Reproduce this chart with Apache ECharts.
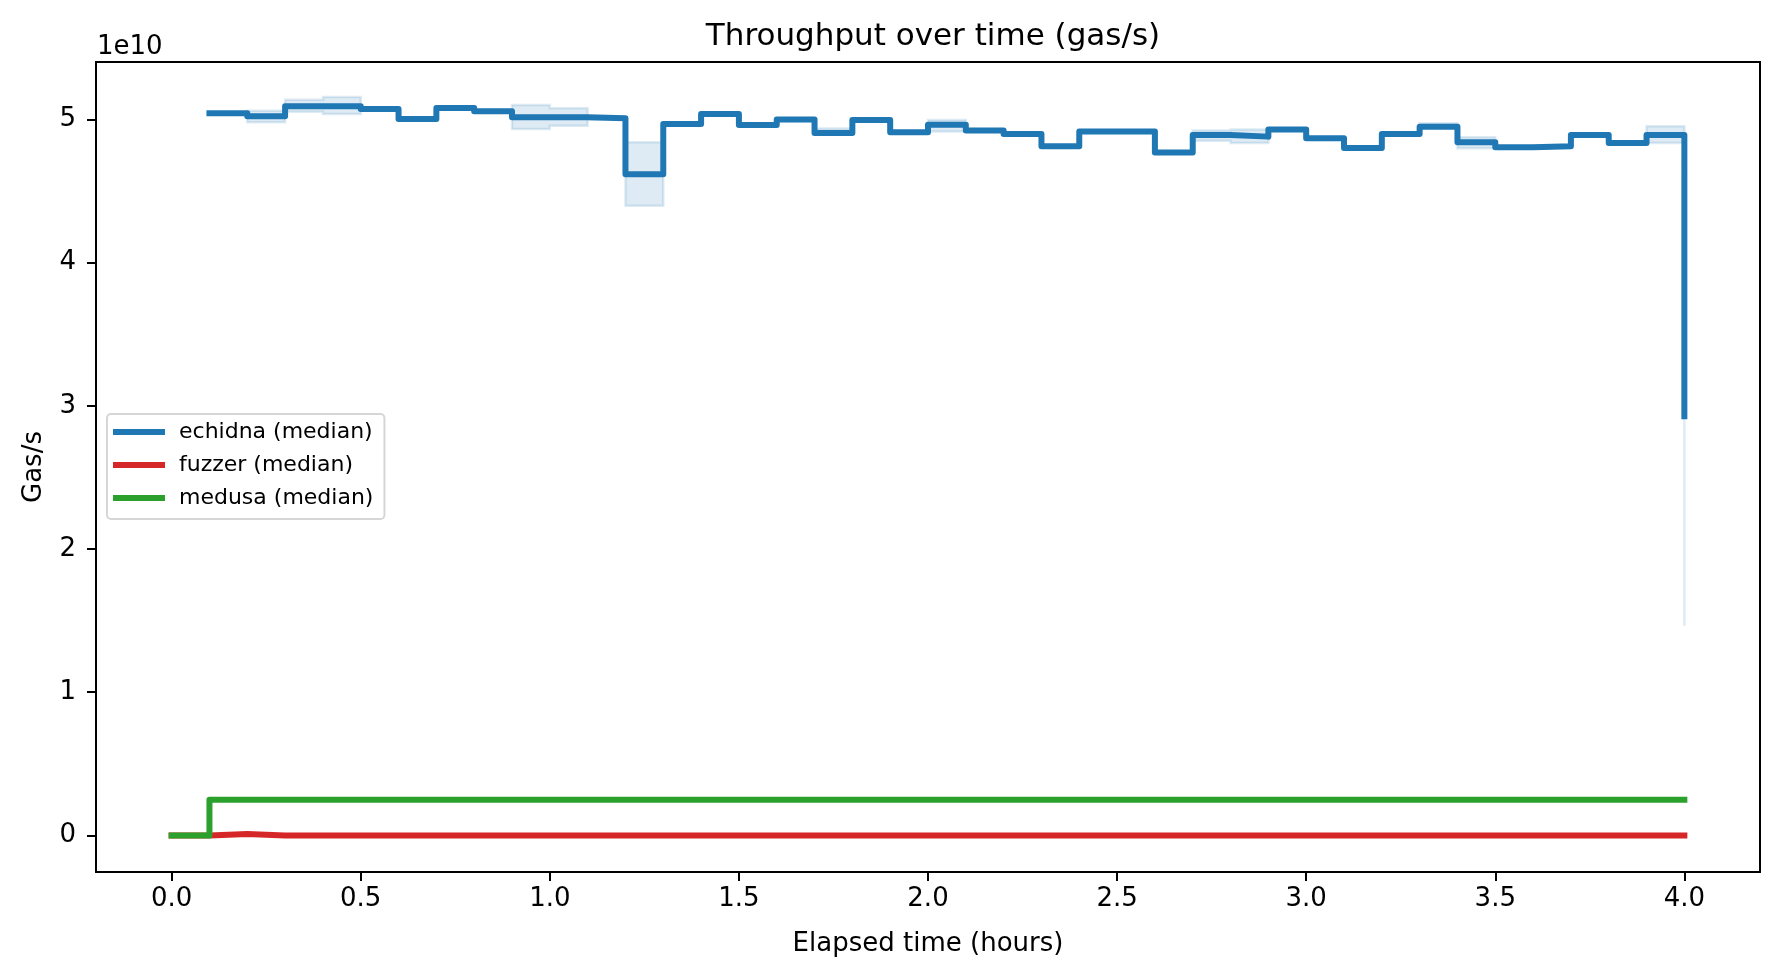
<!DOCTYPE html>
<html>
<head>
<meta charset="utf-8">
<title>Throughput over time (gas/s)</title>
<script src="https://cdn.jsdelivr.net/npm/echarts@6/dist/echarts.min.js"></script>
<style>
  html, body { margin: 0; padding: 0; background: #fff; }
  #chart { width: 1779px; height: 978px; }
</style>
</head>
<body>
<div id="chart"></div>
<script>
// elapsed time in hours, one sample every 6 minutes
var hours = [0.0, 0.1, 0.2, 0.3, 0.4, 0.5, 0.6, 0.7, 0.8, 0.9, 1.0,
  1.1, 1.2, 1.3, 1.4, 1.5, 1.6, 1.7, 1.8, 1.9, 2.0,
  2.1, 2.2, 2.3, 2.4, 2.5, 2.6, 2.7, 2.8, 2.9, 3.0,
  3.1, 3.2, 3.3, 3.4, 3.5, 3.6, 3.7, 3.8, 3.9, 4.0];
// echidna has no sample at 0.0
var echidnaHours = [0.1, 0.2, 0.3, 0.4, 0.5, 0.6, 0.7, 0.8, 0.9, 1.0,
  1.1, 1.2, 1.3, 1.4, 1.5, 1.6, 1.7, 1.8, 1.9, 2.0,
  2.1, 2.2, 2.3, 2.4, 2.5, 2.6, 2.7, 2.8, 2.9, 3.0,
  3.1, 3.2, 3.3, 3.4, 3.5, 3.6, 3.7, 3.8, 3.9, 4.0];

// gas/s
var echidnaMedian = [5.042e10, 5.021e10, 5.091e10, 5.091e10, 5.072e10, 5.002e10, 5.079e10, 5.056e10, 5.014e10, 5.014e10,
  5.007e10, 4.617e10, 4.967e10, 5.037e10, 4.960e10, 4.998e10, 4.904e10, 4.995e10, 4.909e10, 4.962e10,
  4.921e10, 4.897e10, 4.811e10, 4.914e10, 4.914e10, 4.769e10, 4.890e10, 4.879e10, 4.928e10, 4.867e10,
  4.799e10, 4.897e10, 4.948e10, 4.839e10, 4.804e10, 4.811e10, 4.890e10, 4.834e10, 4.890e10, 2.927e10];
var echidnaLow = [5.036e10, 4.979e10, 5.053e10, 5.037e10, 5.066e10, 4.996e10, 5.073e10, 5.050e10, 4.932e10, 4.955e10,
  5.001e10, 4.396e10, 4.961e10, 5.031e10, 4.954e10, 4.988e10, 4.897e10, 4.989e10, 4.903e10, 4.914e10,
  4.915e10, 4.891e10, 4.805e10, 4.908e10, 4.908e10, 4.763e10, 4.851e10, 4.834e10, 4.921e10, 4.861e10,
  4.793e10, 4.891e10, 4.941e10, 4.797e10, 4.798e10, 4.805e10, 4.884e10, 4.828e10, 4.834e10, 1.465e10];
var echidnaHigh = [5.048e10, 5.060e10, 5.137e10, 5.156e10, 5.078e10, 5.008e10, 5.085e10, 5.062e10, 5.100e10, 5.077e10,
  5.013e10, 4.839e10, 4.973e10, 5.043e10, 4.966e10, 5.008e10, 4.935e10, 5.001e10, 4.915e10, 4.995e10,
  4.927e10, 4.903e10, 4.817e10, 4.920e10, 4.922e10, 4.775e10, 4.921e10, 4.928e10, 4.934e10, 4.873e10,
  4.805e10, 4.903e10, 4.972e10, 4.874e10, 4.810e10, 4.817e10, 4.896e10, 4.840e10, 4.951e10, 4.400e10];
var fuzzerMedian = [0, 1e8, 0, 0, 0, 0, 0, 0, 0, 0, 0,
  0, 0, 0, 0, 0, 0, 0, 0, 0, 0,
  0, 0, 0, 0, 0, 0, 0, 0, 0, 0,
  0, 0, 0, 0, 0, 0, 0, 0, 0, 0];
var medusaMedian = [0, 2.5e9, 2.5e9, 2.5e9, 2.5e9, 2.5e9, 2.5e9, 2.5e9, 2.5e9, 2.5e9, 2.5e9,
  2.5e9, 2.5e9, 2.5e9, 2.5e9, 2.5e9, 2.5e9, 2.5e9, 2.5e9, 2.5e9, 2.5e9,
  2.5e9, 2.5e9, 2.5e9, 2.5e9, 2.5e9, 2.5e9, 2.5e9, 2.5e9, 2.5e9, 2.5e9,
  2.5e9, 2.5e9, 2.5e9, 2.5e9, 2.5e9, 2.5e9, 2.5e9, 2.5e9, 2.5e9, 2.5e9];

var xTicks = [0, 0.5, 1, 1.5, 2, 2.5, 3, 3.5, 4];
var yTicks = [0, 1e10, 2e10, 3e10, 4e10, 5e10];

var FONT = 'DejaVu Sans';
var bandFill = 'rgba(31,119,180,0.15)';

function pair(xs, ys) {
  return xs.map(function (x, i) { return [x, ys[i]]; });
}

// min/max band of echidna, drawn as one stepped ("post") polygon
function renderBand(params, api) {
  if (params.dataIndex !== 0) return null;
  var n = echidnaHours.length;
  var pts = [];
  for (var i = 0; i < n; i++) {
    pts.push(api.coord([echidnaHours[i], echidnaHigh[i]]));
    if (i < n - 1) pts.push(api.coord([echidnaHours[i + 1], echidnaHigh[i]]));
  }
  for (var j = n - 1; j >= 0; j--) {
    if (j < n - 1) pts.push(api.coord([echidnaHours[j + 1], echidnaLow[j]]));
    pts.push(api.coord([echidnaHours[j], echidnaLow[j]]));
  }
  return {
    type: 'polygon',
    shape: { points: pts },
    style: { fill: bandFill, stroke: bandFill, lineWidth: 2.5, lineJoin: 'miter' }
  };
}

var chart = echarts.init(document.getElementById('chart'));

var option = {
  animation: false,
  backgroundColor: '#fff',
  title: [{
    text: 'Throughput over time (gas/s)',
    left: 928,
    top: 16,
    textAlign: 'center',
    textStyle: { fontFamily: FONT, fontSize: 31, fontWeight: 'normal', color: '#000' }
  }, {
    text: '1e10',
    left: 92,
    top: 29,
    textStyle: { fontFamily: FONT, fontSize: 26, fontWeight: 'normal', color: '#000' }
  }],
  legend: {
    data: ['echidna (median)', 'fuzzer (median)', 'medusa (median)'],
    orient: 'vertical',
    left: 107,
    top: 414,
    icon: 'rect',
    itemWidth: 52,
    itemHeight: 6,
    itemGap: 9,
    padding: [6, 11, 9, 6],
    borderColor: '#d6d6d6',
    borderWidth: 2,
    borderRadius: 4,
    backgroundColor: 'rgba(255,255,255,0.8)',
    selectedMode: false,
    textStyle: { fontFamily: FONT, fontSize: 22, color: '#000', lineHeight: 24, padding: [0, 0, 0, 9] }
  },
  grid: {
    left: 96,
    right: 19,
    top: 62,
    bottom: 106,
    show: true,
    borderColor: '#000',
    borderWidth: 2
  },
  xAxis: {
    type: 'value',
    min: -0.2,
    max: 4.2,
    name: 'Elapsed time (hours)',
    nameLocation: 'middle',
    nameGap: 59,
    nameTextStyle: { fontFamily: FONT, fontSize: 26, color: '#000' },
    axisLine: { onZero: false, lineStyle: { color: '#000', width: 2 } },
    axisTick: { length: 9, customValues: xTicks, lineStyle: { color: '#000', width: 2 } },
    axisLabel: {
      customValues: xTicks,
      margin: 14,
      fontFamily: FONT, fontSize: 26, color: '#000',
      formatter: function (v) { return v.toFixed(1); }
    },
    splitLine: { show: false }
  },
  yAxis: {
    type: 'value',
    min: -0.255e10,
    max: 5.40e10,
    name: 'Gas/s',
    nameLocation: 'middle',
    nameRotate: 90,
    nameGap: 49,
    nameTextStyle: { fontFamily: FONT, fontSize: 26, color: '#000' },
    axisLine: { show: true, onZero: false, lineStyle: { color: '#000', width: 2 } },
    axisTick: { show: true, length: 9, customValues: yTicks, lineStyle: { color: '#000', width: 2 } },
    axisLabel: {
      customValues: yTicks,
      margin: 20,
      fontFamily: FONT, fontSize: 26, color: '#000',
      formatter: function (v) { return String(Math.round(v / 1e10)); }
    },
    splitLine: { show: false }
  },
  series: [{
    name: 'echidna band',
    type: 'custom',
    data: echidnaHours.map(function (x, i) { return [x, echidnaLow[i], echidnaHigh[i]]; }),
    encode: { x: 0, y: [1, 2] },
    renderItem: renderBand,
    silent: true,
    z: 1
  }, {
    name: 'echidna (median)',
    type: 'line',
    step: 'end',
    data: pair(echidnaHours, echidnaMedian),
    showSymbol: false,
    z: 2,
    itemStyle: { color: '#1f77b4' },
    lineStyle: { color: '#1f77b4', width: 6, cap: 'square', join: 'round' }
  }, {
    name: 'fuzzer (median)',
    type: 'line',
    step: 'end',
    data: pair(hours, fuzzerMedian),
    showSymbol: false,
    z: 3,
    itemStyle: { color: '#d62728' },
    lineStyle: { color: '#d62728', width: 6, cap: 'square', join: 'round' }
  }, {
    name: 'medusa (median)',
    type: 'line',
    step: 'end',
    data: pair(hours, medusaMedian),
    showSymbol: false,
    z: 4,
    itemStyle: { color: '#2ca02c' },
    lineStyle: { color: '#2ca02c', width: 6, cap: 'square', join: 'round' }
  }]
};

chart.setOption(option);
</script>
</body>
</html>
